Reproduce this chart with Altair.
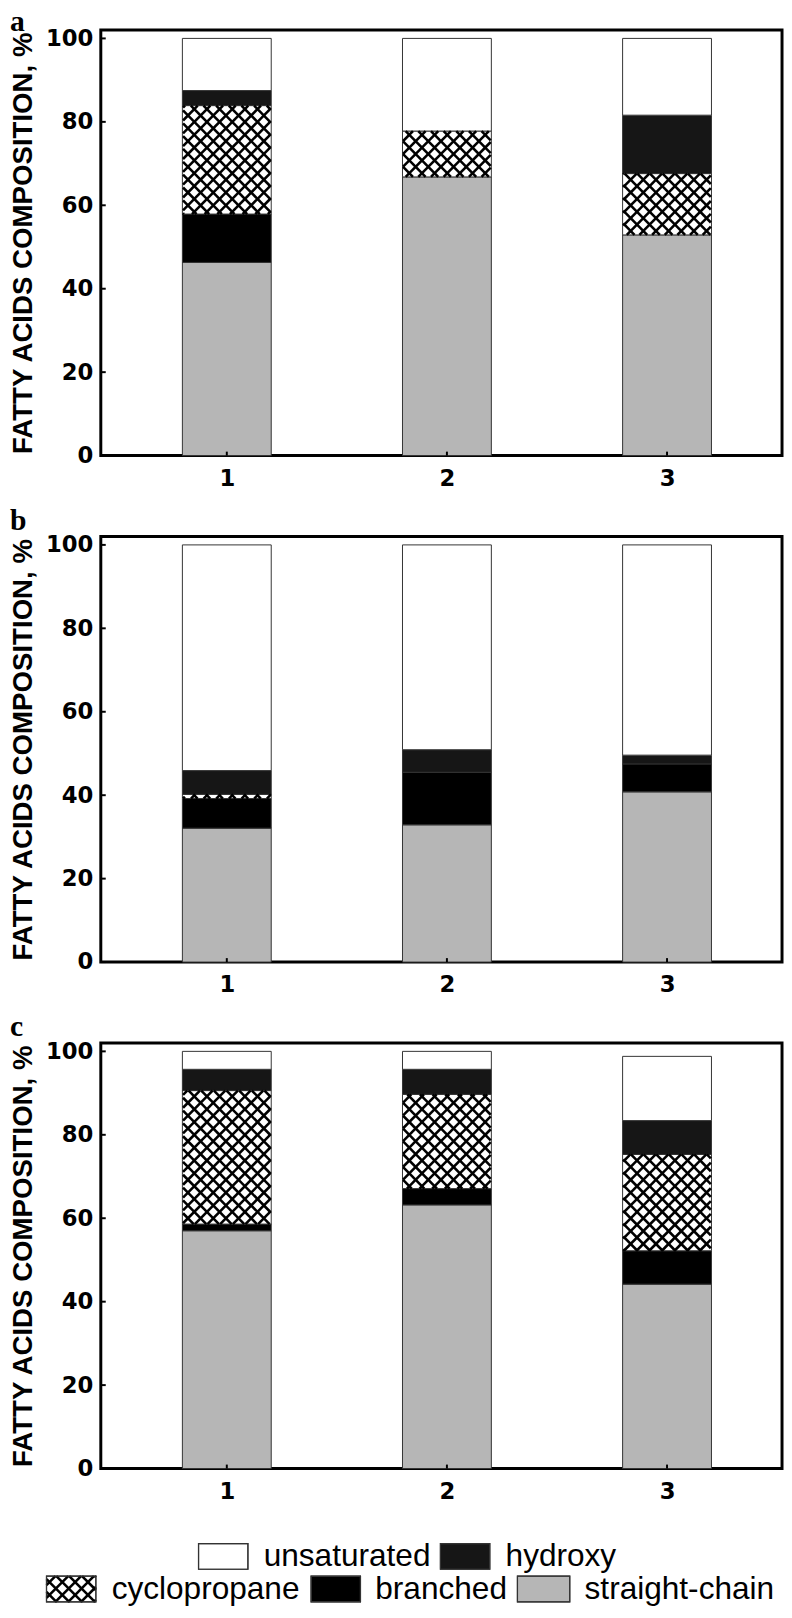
import math
import altair as alt
import pandas as pd

# ---------------- data ----------------
categories = [1, 2, 3]
y_tick_values = [0, 20, 40, 60, 80, 100]
series_names = ["straight-chain", "branched", "cyclopropane", "hydroxy", "unsaturated"]
panel_letters = ["a", "b", "c"]

# panel a
a_straight = [46.3, 66.8, 52.9]
a_branched = [11.6, 0.0, 0.0]
a_cyclo = [26.0, 11.0, 14.7]
a_hydroxy = [3.6, 0.0, 14.0]
a_unsat = [12.5, 22.2, 18.4]

# panel b
b_straight = [32.1, 32.9, 40.8]
b_branched = [7.1, 12.6, 6.7]
b_cyclo = [1.0, 0.0, 0.0]
b_hydroxy = [5.7, 5.4, 2.1]
b_unsat = [54.1, 49.1, 50.4]

# panel c
c_straight = [57.0, 63.2, 44.2]
c_branched = [1.6, 3.9, 8.0]
c_cyclo = [32.0, 22.6, 23.1]
c_hydroxy = [5.1, 6.0, 8.1]
c_unsat = [4.3, 4.3, 15.4]

legend_labels = ["unsaturated", "hydroxy", "cyclopropane", "branched", "straight-chain"]

# ---------------- styles / layout ----------------
FILLS = {
    "straight-chain": "#b6b6b6",
    "branched": "#000000",
    "cyclopropane": "#ffffff",
    "hydroxy": "#161616",
    "unsaturated": "#ffffff",
}
W, H = 690, 431
X_DOMAIN = [0.45, 3.5]
Y_MAX = 102
BAR_W = 90
HATCH_P = 13
HATCH_SW = 2.6
LEFT_EXT = -92
TOP_EXT = -31
LETTER_Y = {"a": -23, "b": -31, "c": -31}

# legend layout (pixels relative to plot left / legend top)
LH = 89
leg_box_x = [99, 344, -55, 213, 422]
leg_box_w = [50, 50, 50, 50, 53]
leg_text_x = [165, 410, 11, 278, 490]
leg_row_y = [39, 39, 72, 72, 72]
LEG_BOX_H = 26


def clip_hatch(xl, xr, yl, yh, p):
    segs = []
    for s in (1, -1):
        if s == 1:
            bmin, bmax = yl - xr, yh - xl
        else:
            bmin, bmax = yl + xl, yh + xr
        for k in range(math.floor(bmin / p), math.ceil(bmax / p) + 1):
            b = k * p
            xa = (yl - b) / s
            xb = (yh - b) / s
            lo = max(xl, min(xa, xb))
            hi = min(xr, max(xa, xb))
            if hi - lo > 0.3:
                segs.append((lo, s * lo + b, hi, s * hi + b))
    return segs


sx = W / (X_DOMAIN[1] - X_DOMAIN[0])
sy = H / Y_MAX
xs = alt.Scale(domain=X_DOMAIN, nice=False, zero=False)
ys = alt.Scale(domain=[0, Y_MAX], nice=False, zero=True)

y_axis = alt.Axis(
    values=y_tick_values, title="FATTY ACIDS COMPOSITION, %",
    titleFont="Liberation Sans", titleFontSize=28, titleFontWeight="bold",
    titleColor="black", titlePadding=8,
    labelFont="DejaVu Sans", labelFontSize=23, labelFontWeight="bold",
    labelColor="black", labelPadding=8,
    ticks=False, tickSize=0, domain=False, grid=False,
)
x_axis = alt.Axis(
    values=categories, format="d", title="",
    labelFont="DejaVu Sans", labelFontSize=23, labelFontWeight="bold",
    labelColor="black", labelPadding=12,
    ticks=False, tickSize=0, domain=False, grid=False,
)


def make_panel(letter, series):
    rows, hatch = [], []
    for i, c in enumerate(categories):
        base = 0.0
        for name in series_names:
            v = series[name][i]
            if v > 0:
                rows.append(dict(cat=c, comp=name, y0=base, y1=base + v, fill=FILLS[name]))
                if name == "cyclopropane":
                    pc = (c - X_DOMAIN[0]) * sx
                    for X1, Y1, X2, Y2 in clip_hatch(pc - BAR_W / 2, pc + BAR_W / 2,
                                                     base * sy, (base + v) * sy, HATCH_P):
                        hatch.append(dict(cat=X_DOMAIN[0] + X1 / sx, y0=Y1 / sy,
                                          hx2=X_DOMAIN[0] + X2 / sx, hy2=Y2 / sy))
            base += v
    df = pd.DataFrame(rows)
    hdf = pd.DataFrame(hatch)

    X = alt.X("cat:Q", scale=xs, axis=x_axis)
    Y = alt.Y("y0:Q", scale=ys, axis=y_axis)

    bars = alt.Chart(df).mark_bar(size=BAR_W, stroke="#333333", strokeWidth=1).encode(
        x=X, y=Y, y2="y1:Q",
        fill=alt.Fill("fill:N", scale=None),
    )
    hatch_layer = alt.Chart(hdf).mark_rule(color="black", strokeWidth=HATCH_SW, strokeCap="butt").encode(
        x=X, y=Y, x2="hx2:Q", y2="hy2:Q",
    )
    ytick = alt.Chart(pd.DataFrame({"y0": y_tick_values})).mark_rule(color="black", strokeWidth=2).encode(
        y=Y, x=alt.value(0), x2=alt.value(5)
    )
    xtick = alt.Chart(pd.DataFrame({"cat": categories})).mark_rule(color="black", strokeWidth=2).encode(
        x=X, y=alt.value(H), y2=alt.value(H - 4)
    )
    # white guide keeping every panel's top extent identical
    guide = alt.Chart(pd.DataFrame({"e": [0]})).mark_rule(color="white", strokeWidth=1).encode(
        x=alt.value(0), x2=alt.value(2), y=alt.value(TOP_EXT)
    )
    letter_mark = alt.Chart(pd.DataFrame({"t": [letter]})).mark_text(
        font="Liberation Serif", fontSize=30, fontWeight="bold", align="left",
        baseline="top", color="black",
    ).encode(text="t:N", x=alt.value(LEFT_EXT), y=alt.value(LETTER_Y[letter]))
    return alt.layer(guide, bars, hatch_layer, ytick, xtick, letter_mark).properties(width=W, height=H)


panels = [
    make_panel("a", {"straight-chain": a_straight, "branched": a_branched, "cyclopropane": a_cyclo,
                     "hydroxy": a_hydroxy, "unsaturated": a_unsat}),
    make_panel("b", {"straight-chain": b_straight, "branched": b_branched, "cyclopropane": b_cyclo,
                     "hydroxy": b_hydroxy, "unsaturated": b_unsat}),
    make_panel("c", {"straight-chain": c_straight, "branched": c_branched, "cyclopropane": c_cyclo,
                     "hydroxy": c_hydroxy, "unsaturated": c_unsat}),
]

# ---------------- legend ----------------
lx = alt.Scale(domain=[0, W], nice=False, zero=False)
ly = alt.Scale(domain=[0, LH], nice=False, zero=False, reverse=True)

box_rows, text_rows, lhatch = [], [], []
for i, lab in enumerate(legend_labels):
    x0 = leg_box_x[i]
    x1 = x0 + leg_box_w[i]
    y0 = leg_row_y[i] - LEG_BOX_H / 2
    y1 = leg_row_y[i] + LEG_BOX_H / 2
    box_rows.append(dict(bx=x0, bx2=x1, by=y0, by2=y1, fill=FILLS[lab]))
    text_rows.append(dict(bx=leg_text_x[i], by=leg_row_y[i], label=lab))
    if lab == "cyclopropane":
        for X1, Y1, X2, Y2 in clip_hatch(x0, x1, y0, y1, HATCH_P):
            lhatch.append(dict(bx=X1, by=Y1, hx2=X2, hy2=Y2))

LX = alt.X("bx:Q", scale=lx, axis=None)
LY = alt.Y("by:Q", scale=ly, axis=None)
leg_boxes = alt.Chart(pd.DataFrame(box_rows)).mark_rect(stroke="#333333", strokeWidth=1.2).encode(
    x=LX, x2="bx2:Q", y=LY, y2="by2:Q",
    fill=alt.Fill("fill:N", scale=None),
)
leg_hatch = alt.Chart(pd.DataFrame(lhatch)).mark_rule(color="black", strokeWidth=HATCH_SW, strokeCap="butt").encode(
    x=LX, x2="hx2:Q", y=LY, y2="hy2:Q",
)
leg_box_outline = alt.Chart(pd.DataFrame(box_rows)).mark_rect(
    stroke="#333333", strokeWidth=1.2, fillOpacity=0
).encode(x=LX, x2="bx2:Q", y=LY, y2="by2:Q")
leg_text = alt.Chart(pd.DataFrame(text_rows)).mark_text(
    font="Liberation Sans", fontSize=32, align="left", baseline="middle", color="black"
).encode(x=LX, y=LY, text="label:N")
# white guide line giving the legend the same horizontal extent as the panels
leg_extent = alt.Chart(pd.DataFrame({"e": [0]})).mark_rule(color="white", strokeWidth=1).encode(
    x=alt.value(LEFT_EXT), x2=alt.value(W + 1.5), y=alt.value(0)
)
legend = alt.layer(leg_extent, leg_boxes, leg_hatch, leg_box_outline, leg_text).properties(
    width=W, height=LH, view=alt.ViewBackground(stroke="transparent", strokeWidth=0)
)

chart = alt.vconcat(*panels, legend, spacing=12).properties(
    padding={"top": -21, "left": 0, "right": 0, "bottom": 0},
    background="white",
).configure_view(stroke="black", strokeWidth=3)

chart.save("out.html", embed_options={"renderer": "svg", "actions": False})
